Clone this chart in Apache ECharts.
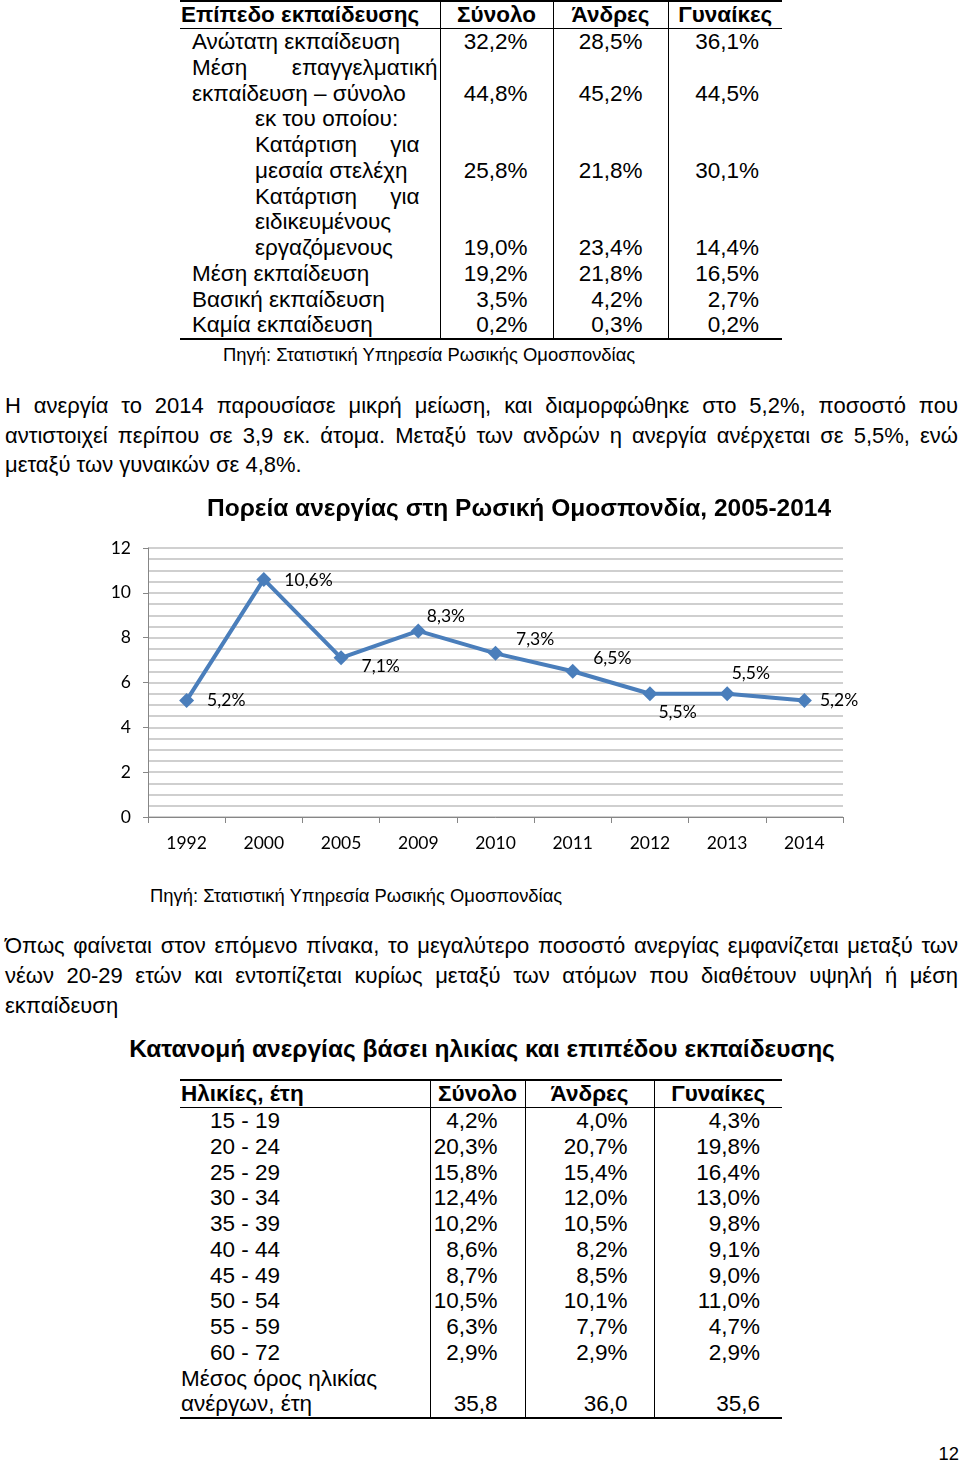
<!DOCTYPE html>
<html lang="el">
<head>
<meta charset="utf-8">
<script src="https://cdn.jsdelivr.net/npm/echarts@6/dist/echarts.min.js"></script>
<style>
  body { margin: 0; background: #fff; }
  #page { position: relative; width: 960px; height: 1463px; overflow: hidden;
          font-family: "Liberation Sans", Arial, sans-serif; color: #000; }
  .abs { position: absolute; }
  table.t { position: absolute; border-collapse: collapse; table-layout: fixed; font-size: 22.5px; }
  table.t td { padding: 0; line-height: 25.75px; vertical-align: bottom; white-space: nowrap; }
  table.t tr.head td { font-weight: bold; text-align: center; line-height: 26px;
                       border-top: 2px solid #000; border-bottom: 1.5px solid #000; }
  table.t tr.head td:first-child { text-align: left; padding-left: 1px; }
  table.t tr:last-child td { border-bottom: 2px solid #000; }
  table.t td + td { border-left: 1.5px solid #000; }
  .jl { text-align: justify; text-align-last: justify; }
  .para { position: absolute; left: 5px; width: 953px; font-size: 22px; }
  .para div { white-space: nowrap; }
  .src { position: absolute; font-size: 18.4px; white-space: nowrap; }
</style>
</head>
<body>
<div id="page">
  <table class="t" id="eduTable" style="left:180px; top:0px; width:602px;">
    <colgroup><col style="width:260px"><col style="width:113px"><col style="width:115px"><col style="width:114px"></colgroup>
  </table>
  <div class="src" style="left:223px; top:344px;">Πηγή: Στατιστική Υπηρεσία Ρωσικής Ομοσπονδίας</div>

  <div class="para" style="top:391px; line-height:29.5px;">
    <div class="jl">Η ανεργία το 2014 παρουσίασε μικρή μείωση, και διαμορφώθηκε στο 5,2%, ποσοστό που</div>
    <div class="jl">αντιστοιχεί περίπου σε 3,9 εκ. άτομα. Μεταξύ των ανδρών η ανεργία ανέρχεται σε 5,5%, ενώ</div>
    <div>μεταξύ των γυναικών σε 4,8%.</div>
  </div>

  <div id="main" class="abs" style="left:0; top:480px; width:960px; height:400px;"></div>
  <div class="src" style="left:150px; top:885px;">Πηγή: Στατιστική Υπηρεσία Ρωσικής Ομοσπονδίας</div>

  <div class="para" style="top:931px; line-height:30px;">
    <div class="jl">Όπως φαίνεται στον επόμενο πίνακα, το μεγαλύτερο ποσοστό ανεργίας εμφανίζεται μεταξύ των</div>
    <div class="jl">νέων 20-29 ετών και εντοπίζεται κυρίως μεταξύ των ατόμων που διαθέτουν υψηλή ή μέση</div>
    <div>εκπαίδευση</div>
  </div>

  <div class="abs" style="left:0; width:964px; top:1035px; line-height:28px; font-size:24.5px; font-weight:bold; text-align:center;">Κατανομή ανεργίας βάσει ηλικίας και επιπέδου εκπαίδευσης</div>

  <table class="t" id="ageTable" style="left:180px; top:1079px; width:602px;">
    <colgroup><col style="width:250px"><col style="width:95px"><col style="width:129px"><col style="width:128px"></colgroup>
  </table>

  <div class="src" style="right:1px; top:1443px;">12</div>
</div>

<script>
// education table
const eduHeader = ["Επίπεδο εκπαίδευσης", "Σύνολο", "Άνδρες", "Γυναίκες"];
const eduLabels = [
  ["Ανώτατη εκπαίδευση"],
  ["Μέση επαγγελματική", "εκπαίδευση – σύνολο"],
  ["εκ του οποίου:"],
  ["Κατάρτιση για", "μεσαία στελέχη"],
  ["Κατάρτιση για", "ειδικευμένους", "εργαζόμενους"],
  ["Μέση εκπαίδευση"],
  ["Βασική εκπαίδευση"],
  ["Καμία εκπαίδευση"]
];
const eduIndent = [false, false, true, true, true, false, false, false];
const eduTotal = [32.2, 44.8, null, 25.8, 19.0, 19.2, 3.5, 0.2];
const eduMen = [28.5, 45.2, null, 21.8, 23.4, 21.8, 4.2, 0.3];
const eduWomen = [36.1, 44.5, null, 30.1, 14.4, 16.5, 2.7, 0.2];

// age table
const ageHeader = ["Ηλικίες, έτη", "Σύνολο", "Άνδρες", "Γυναίκες"];
const ageGroups = ["15 - 19", "20 - 24", "25 - 29", "30 - 34", "35 - 39", "40 - 44", "45 - 49", "50 - 54", "55 - 59", "60 - 72"];
const ageTotal = [4.2, 20.3, 15.8, 12.4, 10.2, 8.6, 8.7, 10.5, 6.3, 2.9];
const ageMen = [4.0, 20.7, 15.4, 12.0, 10.5, 8.2, 8.5, 10.1, 7.7, 2.9];
const ageWomen = [4.3, 19.8, 16.4, 13.0, 9.8, 9.1, 9.0, 11.0, 4.7, 2.9];
const avgAgeLabel = ["Μέσος όρος ηλικίας", "ανέργων, έτη"];
const avgAge = [35.8, 36.0, 35.6];

// chart
const years = ["1992", "2000", "2005", "2009", "2010", "2011", "2012", "2013", "2014"];
const unemployment = [5.2, 10.6, 7.1, 8.3, 7.3, 6.5, 5.5, 5.5, 5.2];

const fmt = (v) => v.toFixed(1).replace(".", ",");
const pct = (v) => (v == null ? "" : fmt(v) + "%");

function headRow(cells) {
  return '<tr class="head">' + cells.map((c) => "<td>" + c + "</td>").join("") + "</tr>";
}
// justify: stretch every line but the last (as in the source document's first table)
function labelCell(lines, padL, padR, justify) {
  const inner = lines
    .map((l, i) => '<div class="' + (justify && i < lines.length - 1 && l.includes(" ") ? "jl" : "") + '">' + l + "</div>")
    .join("");
  return '<td style="padding-left:' + padL + "px;padding-right:" + padR + 'px;">' + inner + "</td>";
}
function valCell(text, padR) {
  return '<td style="text-align:right;padding-right:' + padR + 'px;">' + text + "</td>";
}

let html = headRow(eduHeader);
eduLabels.forEach((lines, i) => {
  html += "<tr>" +
    labelCell(lines, eduIndent[i] ? 75 : 12, eduIndent[i] ? 20 : 2, true) +
    valCell(pct(eduTotal[i]), 25) + valCell(pct(eduMen[i]), 25) + valCell(pct(eduWomen[i]), 23) +
    "</tr>";
});
document.getElementById("eduTable").insertAdjacentHTML("beforeend", html);

html = headRow(ageHeader);
ageGroups.forEach((g, i) => {
  html += "<tr>" + labelCell([g], 30, 0, false) +
    valCell(pct(ageTotal[i]), 27) + valCell(pct(ageMen[i]), 26) + valCell(pct(ageWomen[i]), 22) + "</tr>";
});
html += "<tr>" + labelCell(avgAgeLabel, 1, 0, false) +
  valCell(fmt(avgAge[0]), 27) + valCell(fmt(avgAge[1]), 26) + valCell(fmt(avgAge[2]), 22) + "</tr>";
document.getElementById("ageTable").insertAdjacentHTML("beforeend", html);

// label placement per point (style only)
const labelOffsets = [[8, 0], [8, 1], [8, 9], [-4, -15], [8, -14], [8, -13], [-4, 19], [-8, -20], [3, 0]];

var chartDom = document.getElementById("main");
var myChart = echarts.init(chartDom);
var option;

const gray = "#868686";
const labelFont = "Lato, 'Open Sans', sans-serif";

option = {
  animation: false,
  title: {
    text: "Πορεία ανεργίας στη Ρωσική Ομοσπονδία, 2005-2014",
    left: 207,
    top: 17,
    padding: 0,
    textStyle: {
      fontFamily: "'Liberation Sans', Arial, sans-serif",
      fontSize: 24.5,
      fontWeight: "bold",
      color: "#000",
    },
  },
  grid: { left: 148, right: 117, top: 68, bottom: 63 },
  xAxis: {
    type: "category",
    data: years,
    boundaryGap: true,
    axisLine: { lineStyle: { color: gray, width: 1 } },
    axisTick: { show: true, length: 6, lineStyle: { color: gray } },
    axisLabel: { fontFamily: labelFont, fontSize: 17.5, color: "#000", margin: 17 },
    splitLine: { show: false },
  },
  yAxis: {
    type: "value",
    min: 0,
    max: 12,
    interval: 2,
    axisLine: { show: true, lineStyle: { color: gray, width: 1 } },
    axisTick: { show: true, length: 5, lineStyle: { color: gray } },
    axisLabel: { fontFamily: labelFont, fontSize: 17.5, color: "#000", margin: 17 },
    splitLine: { show: true, lineStyle: { color: "#c0c0c0", width: 1.5 } },
    minorTick: { show: false, splitNumber: 4 },
    minorSplitLine: { show: true, lineStyle: { color: "#c0c0c0", width: 1.5 } },
  },
  series: [
    {
      type: "line",
      data: unemployment.map((v, i) => ({
        value: v,
        label: { offset: labelOffsets[i] },
      })),
      symbol: "diamond",
      symbolSize: 15,
      lineStyle: { color: "#4a7ebb", width: 4 },
      itemStyle: { color: "#4a7ebb" },
      label: {
        show: true,
        position: "right",
        distance: 5,
        fontFamily: labelFont,
        fontSize: 17.5,
        color: "#000",
        formatter: (p) => fmt(p.value) + "%",
      },
    },
  ],
};

option && myChart.setOption(option);
</script>
</body>
</html>
